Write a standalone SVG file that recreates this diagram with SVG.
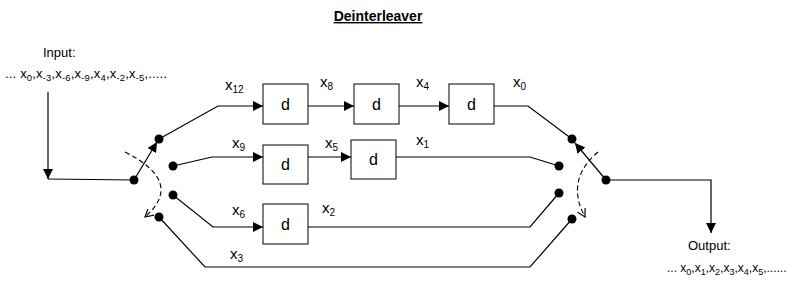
<svg xmlns="http://www.w3.org/2000/svg" width="798" height="292" viewBox="0 0 798 292">
<style>
text{font-family:"Liberation Sans",Arial,sans-serif;fill:#000}
.lbl{font-size:15px}
.sub{font-size:10px}
.small{font-size:13px}
.ssub{font-size:9.5px}
.out{font-size:12px}
.osub{font-size:9px}
.box{fill:#fff;stroke:#000;stroke-width:1}
.ln{fill:none;stroke:#000;stroke-width:1.2}
.dash{fill:none;stroke:#000;stroke-width:1.1;stroke-dasharray:5,3}
.dot{fill:#000}
</style>
<defs>
<marker id="ar" viewBox="0 0 10 10" refX="10" refY="5" markerWidth="10" markerHeight="10" markerUnits="userSpaceOnUse" orient="auto">
<path d="M0,0 L10,5 L0,10 z" fill="#000"/>
</marker>
<marker id="ao" viewBox="0 0 10 10" refX="9" refY="5" markerWidth="9" markerHeight="9" markerUnits="userSpaceOnUse" orient="auto">
<path d="M0,0 L9,5 L0,10" fill="none" stroke="#000" stroke-width="1.3"/>
</marker>
</defs>
<rect width="798" height="292" fill="#fff"/>
<text x="378" y="21" text-anchor="middle" font-size="14" font-weight="bold" text-decoration="underline">Deinterleaver</text>

<g id="input-label">
<text x="43" y="57" class="small">Input:</text>
<text x="5" y="78" class="small" textLength="162" lengthAdjust="spacing">... x<tspan class="ssub" dy="3">0</tspan><tspan dy="-3">,x</tspan><tspan class="ssub" dy="3">-3</tspan><tspan dy="-3">,x</tspan><tspan class="ssub" dy="3">-6</tspan><tspan dy="-3">,x</tspan><tspan class="ssub" dy="3">-9</tspan><tspan dy="-3">,x</tspan><tspan class="ssub" dy="3">4</tspan><tspan dy="-3">,x</tspan><tspan class="ssub" dy="3">-2</tspan><tspan dy="-3">,x</tspan><tspan class="ssub" dy="3">-5</tspan><tspan dy="-3">,.....</tspan></text>
</g>
<g id="output-label">
<text x="688" y="250" class="small">Output:</text>
<text x="667" y="272" class="out">... x<tspan class="osub" dy="3">0</tspan><tspan dy="-3">,x</tspan><tspan class="osub" dy="3">1</tspan><tspan dy="-3">,x</tspan><tspan class="osub" dy="3">2</tspan><tspan dy="-3">,x</tspan><tspan class="osub" dy="3">3</tspan><tspan dy="-3">,x</tspan><tspan class="osub" dy="3">4</tspan><tspan dy="-3">,x</tspan><tspan class="osub" dy="3">5</tspan><tspan dy="-3">,......</tspan></text>
</g>

<g id="connectors">
<path class="ln" d="M48,92 L48,179" marker-end="url(#ar)"/>
<path class="ln" d="M48,179 L134,180"/>
<path class="ln" d="M134,180 L157,142" marker-end="url(#ar)"/>
<path class="ln" d="M159,139 L218,106 L263,106" marker-end="url(#ar)"/>
<path class="ln" d="M308,106 L354,106" marker-end="url(#ar)"/>
<path class="ln" d="M399,106 L449,106" marker-end="url(#ar)"/>
<path class="ln" d="M494,106 L528,106 L572,139"/>
<path class="ln" d="M173,166 L212,157 L263,157" marker-end="url(#ar)"/>
<path class="ln" d="M308,157 L351,157" marker-end="url(#ar)"/>
<path class="ln" d="M396,157 L530,157 L559,166"/>
<path class="ln" d="M173,195 L213,227 L263,227" marker-end="url(#ar)"/>
<path class="ln" d="M308,227 L530,227 L559,193"/>
<path class="ln" d="M159,217 L205,267 L530,267 L572,219"/>
<path class="ln" d="M606,180 L575,143" marker-end="url(#ar)"/>
<path class="ln" d="M606,180 L711,180 L711,233" marker-end="url(#ar)"/>
<path class="dash" d="M125,152 Q185,182 145,217" marker-end="url(#ao)"/>
<path class="dash" d="M598,152 Q565,180 585,217" marker-end="url(#ao)"/>
</g>

<g id="switch-in">
<circle class="dot" cx="134" cy="180" r="4.5"/>
<circle class="dot" cx="159" cy="139" r="4.5"/>
<circle class="dot" cx="173" cy="166" r="4.5"/>
<circle class="dot" cx="173" cy="195" r="4.5"/>
<circle class="dot" cx="159" cy="217" r="4.5"/>
</g>
<g id="switch-out">
<circle class="dot" cx="606" cy="180" r="4.5"/>
<circle class="dot" cx="572" cy="139" r="4.5"/>
<circle class="dot" cx="559" cy="166" r="4.5"/>
<circle class="dot" cx="559" cy="193" r="4.5"/>
<circle class="dot" cx="572" cy="219" r="4.5"/>
</g>

<g id="d-r1-1"><rect class="box" x="263" y="84" width="45" height="40"/><text x="285.5" y="110" font-size="16" text-anchor="middle">d</text></g>
<g id="d-r1-2"><rect class="box" x="354" y="84" width="45" height="40"/><text x="376.5" y="110" font-size="16" text-anchor="middle">d</text></g>
<g id="d-r1-3"><rect class="box" x="449" y="84" width="45" height="40"/><text x="471.5" y="110" font-size="16" text-anchor="middle">d</text></g>
<g id="d-r2-1"><rect class="box" x="263" y="145" width="45" height="39"/><text x="285.5" y="170" font-size="16" text-anchor="middle">d</text></g>
<g id="d-r2-2"><rect class="box" x="351" y="140" width="45" height="39"/><text x="373.5" y="165" font-size="16" text-anchor="middle">d</text></g>
<g id="d-r3-1"><rect class="box" x="263" y="204" width="45" height="40"/><text x="285.5" y="230" font-size="16" text-anchor="middle">d</text></g>

<g id="labels">
<text x="225" y="90" class="lbl">x<tspan class="sub" dy="3">12</tspan></text>
<text x="320" y="87" class="lbl">x<tspan class="sub" dy="3">8</tspan></text>
<text x="416" y="87" class="lbl">x<tspan class="sub" dy="3">4</tspan></text>
<text x="513" y="87" class="lbl">x<tspan class="sub" dy="3">0</tspan></text>
<text x="232" y="148" class="lbl">x<tspan class="sub" dy="3">9</tspan></text>
<text x="325" y="148" class="lbl">x<tspan class="sub" dy="3">5</tspan></text>
<text x="416" y="145" class="lbl">x<tspan class="sub" dy="3">1</tspan></text>
<text x="232" y="215" class="lbl">x<tspan class="sub" dy="3">6</tspan></text>
<text x="322" y="213" class="lbl">x<tspan class="sub" dy="3">2</tspan></text>
<text x="230" y="259" class="lbl">x<tspan class="sub" dy="3">3</tspan></text>
</g>
</svg>
